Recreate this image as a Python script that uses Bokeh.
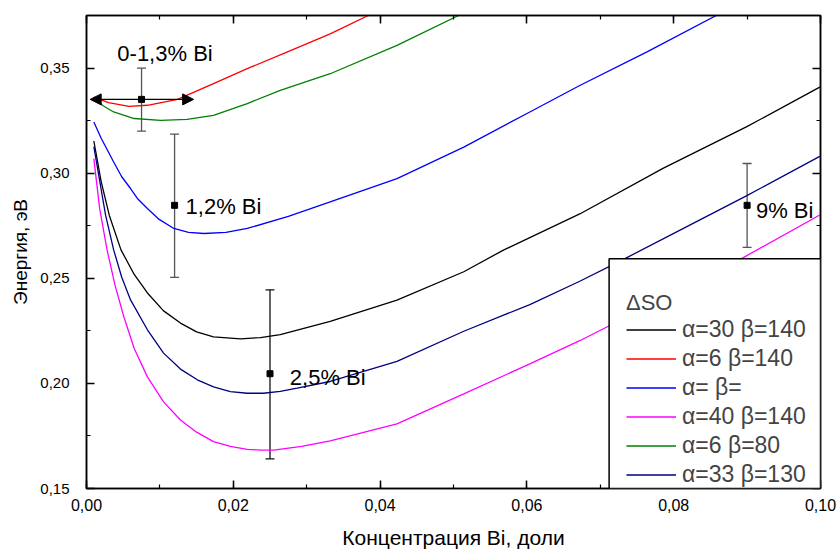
from bokeh.plotting import figure
from bokeh.models import (ColumnDataSource, Whisker, TeeHead, Arrow, NormalHead, Legend,
                          LegendItem, LinearAxis, SingleIntervalTicker, CustomJSTickFormatter,
                          Range1d, BoxAnnotation)
from bokeh.core.properties import value
from bokeh.embed import file_html
from bokeh.resources import INLINE

# ---- data ----
x_black = [0.001, 0.002, 0.0031, 0.0047, 0.0065, 0.0083, 0.0105, 0.0128, 0.015, 0.0173,
           0.021, 0.0237, 0.0264, 0.0332, 0.0423, 0.0514, 0.0568, 0.0672, 0.0786, 0.0899,
           0.0999]
e_black = [0.3153, 0.296, 0.280, 0.2635, 0.2518, 0.2430, 0.2345, 0.2287, 0.2245, 0.2221,
           0.2212, 0.2218, 0.2232, 0.2295, 0.2396, 0.2531, 0.2634, 0.2806, 0.3024, 0.3220,
           0.3409]

x_red = [0.001, 0.003, 0.0058, 0.0083, 0.0124, 0.0173, 0.0219, 0.0273, 0.0332, 0.0384]
e_red = [0.3362, 0.3336, 0.3318, 0.3323, 0.3351, 0.3426, 0.3497, 0.3576, 0.3663, 0.375]

x_blue = [0.001, 0.002, 0.0037, 0.0048, 0.006, 0.007, 0.0083, 0.0099, 0.0119, 0.0139, 0.016,
          0.019, 0.0219, 0.0275, 0.0332, 0.0423, 0.0514, 0.0604, 0.0672, 0.0763, 0.0858]
e_blue = [0.3243, 0.3166, 0.3053, 0.2983, 0.2927, 0.2877, 0.2832, 0.2780, 0.2737, 0.2718,
          0.2713, 0.2718, 0.2737, 0.2795, 0.2863, 0.2974, 0.3124, 0.3291, 0.3417, 0.3576,
          0.375]

x_magenta = [0.001, 0.0018, 0.0028, 0.0039, 0.0051, 0.0065, 0.0083, 0.0105, 0.0128, 0.015,
             0.0173, 0.0196, 0.0219, 0.0237, 0.0255, 0.0293, 0.0332, 0.0423, 0.0514, 0.0604,
             0.0672, 0.089, 0.0999]
e_magenta = [0.3069, 0.283, 0.2635, 0.2465, 0.2316, 0.2166, 0.2031, 0.1912, 0.1826, 0.1768,
             0.1723, 0.1700, 0.1686, 0.1683, 0.1683, 0.1700, 0.1727, 0.1807, 0.1950, 0.2093,
             0.2203, 0.2589, 0.2801]

x_green = [0.001, 0.0022, 0.0037, 0.0065, 0.0101, 0.0137, 0.0173, 0.0219, 0.0264, 0.0332,
           0.0423, 0.0507]
e_green = [0.336, 0.3322, 0.3291, 0.326, 0.3251, 0.3256, 0.3275, 0.3331, 0.3394, 0.3473,
           0.3608, 0.375]

x_navy = [0.001, 0.0026, 0.0037, 0.0048, 0.006, 0.0083, 0.0105, 0.0128, 0.0151, 0.0173,
          0.0196, 0.0219, 0.0241, 0.0264, 0.0287, 0.0332, 0.0423, 0.0514, 0.0604, 0.0672,
          0.0731, 0.0808, 0.0899, 0.0999]
e_navy = [0.3126, 0.280, 0.2635, 0.2505, 0.2397, 0.2255, 0.2144, 0.2068, 0.2017, 0.1983,
          0.1961, 0.1953, 0.1953, 0.1962, 0.1977, 0.2009, 0.2105, 0.2248, 0.2375, 0.2486,
          0.2589, 0.2728, 0.2892, 0.3080]

series_labels = ["α=30 β=140", "α=6 β=140", "α= β=", "α=40 β=140", "α=6 β=80", "α=33 β=130"]
series_colors = ["#000000", "#FF0000", "#0000FF", "#FF00FF", "#008000", "#000080"]

# error bars (experimental points)
pt_x = [0.0075, 0.012, 0.025, 0.090]
pt_y = [0.3351, 0.2847, 0.2046, 0.2847]
pt_upper = [0.350, 0.3186, 0.2445, 0.3046]
pt_lower = [0.320, 0.2504, 0.1641, 0.2647]
pt_color = ["#555555", "#555555", "#111111", "#555555"]

arrow_x = [0.0005, 0.0146]
arrow_y = 0.3351

lab_x = [0.0042, 0.0135, 0.0277, 0.0912]
lab_y = [0.3568, 0.2840, 0.2030, 0.2824]
lab_text = ["0-1,3% Bi", "1,2% Bi", "2,5% Bi", "9% Bi"]

x_ticks_interval = 0.02
y_ticks_interval = 0.05

FONT = "Liberation Sans"

p = figure(width=838, height=551, x_range=Range1d(0, 0.1), y_range=Range1d(0.15, 0.375),
           output_backend="svg", toolbar_location=None,
           min_border_left=86, min_border_right=18, min_border_top=15, min_border_bottom=62)
p.grid.visible = False
p.outline_line_color = "black"
p.outline_line_width = 1.5
p.background_fill_color = "white"
p.border_fill_color = "white"

fmt = CustomJSTickFormatter(code="return tick.toFixed(2).replace('.', ',');")
blank = CustomJSTickFormatter(code="return '';")


def style_axis(ax):
    ax.axis_line_width = 1.5
    ax.major_tick_in = 8
    ax.major_tick_out = 0
    ax.minor_tick_in = 4
    ax.minor_tick_out = 0
    ax.major_tick_line_width = 1.5
    ax.minor_tick_line_width = 1.2
    ax.major_label_text_font = FONT
    ax.axis_label_text_font = FONT
    ax.axis_label_text_font_style = "normal"
    ax.major_label_text_color = "black"
    ax.axis_label_text_color = "black"


xa = p.xaxis[0]
xa.ticker = SingleIntervalTicker(interval=x_ticks_interval, num_minor_ticks=2)
xa.formatter = fmt
style_axis(xa)
xa.major_label_text_font_size = "16px"
xa.major_label_standoff = 10
xa.axis_label = "Концентрация Bi, доли"
xa.axis_label_text_font_size = "21px"
xa.axis_label_standoff = 12

ya = p.yaxis[0]
ya.ticker = SingleIntervalTicker(interval=y_ticks_interval, num_minor_ticks=2)
ya.formatter = fmt
style_axis(ya)
ya.major_label_text_font_size = "15px"
ya.major_label_standoff = 17
ya.axis_label = "Энергия, эВ"
ya.axis_label_text_font_size = "19px"
ya.axis_label_standoff = 6

top = LinearAxis(ticker=SingleIntervalTicker(interval=x_ticks_interval, num_minor_ticks=2),
                 formatter=blank)
style_axis(top)
top.major_label_text_font_size = "1px"
top.major_label_standoff = 0
p.add_layout(top, "above")

right = LinearAxis(ticker=SingleIntervalTicker(interval=y_ticks_interval, num_minor_ticks=2),
                   formatter=blank)
style_axis(right)
right.major_label_text_font_size = "1px"
right.major_label_standoff = 0
p.add_layout(right, "right")

curves = [(x_black, e_black), (x_red, e_red), (x_blue, e_blue),
          (x_magenta, e_magenta), (x_green, e_green), (x_navy, e_navy)]
items = []
for (xs, es), lab, col in zip(curves, series_labels, series_colors):
    r = p.line(xs, es, line_color=col, line_width=1.3)
    items.append(LegendItem(label=lab, renderers=[r]))

# error bars
for i in range(len(pt_x)):
    src = ColumnDataSource(dict(x=[pt_x[i]], upper=[pt_upper[i]], lower=[pt_lower[i]]))
    w = Whisker(base="x", upper="upper", lower="lower", source=src, dimension="height",
                line_color=pt_color[i], line_width=1.3,
                upper_head=TeeHead(size=9, line_color=pt_color[i], line_width=1.3),
                lower_head=TeeHead(size=9, line_color=pt_color[i], line_width=1.3))
    p.add_layout(w)

p.add_layout(Arrow(x_start=arrow_x[0], y_start=arrow_y, x_end=arrow_x[1], y_end=arrow_y,
                   line_color="black", line_width=1.3,
                   start=NormalHead(size=11, fill_color="black", line_color="black"),
                   end=NormalHead(size=11, fill_color="black", line_color="black")))

p.scatter(pt_x, pt_y, marker="square", size=6, color="black")

p.text(x=lab_x, y=lab_y, text=lab_text, text_font=value(FONT), text_font_size="22px",
       text_baseline="middle", text_align="left", text_color="black")

# legend frame (white box in the lower right corner of the plot)
p.add_layout(BoxAnnotation(left=0.0712, right=0.1, bottom=0.15, top=0.2593,
                           fill_color="white", fill_alpha=1.0,
                           line_color="black", line_width=1.5, line_alpha=1.0))

legend = Legend(items=items, title="ΔSO", location="bottom_right", margin=0,
                border_line_color=None, background_fill_alpha=0.0,
                label_text_font=FONT, label_text_font_size="23px",
                title_text_font=FONT, title_text_font_size="22px",
                title_text_font_style="normal", title_standoff=0,
                glyph_width=50, glyph_height=27, label_height=27, label_standoff=6,
                spacing=2, padding=0, label_width=138)
p.add_layout(legend)

open("out.html", "w").write(file_html(p, INLINE))
